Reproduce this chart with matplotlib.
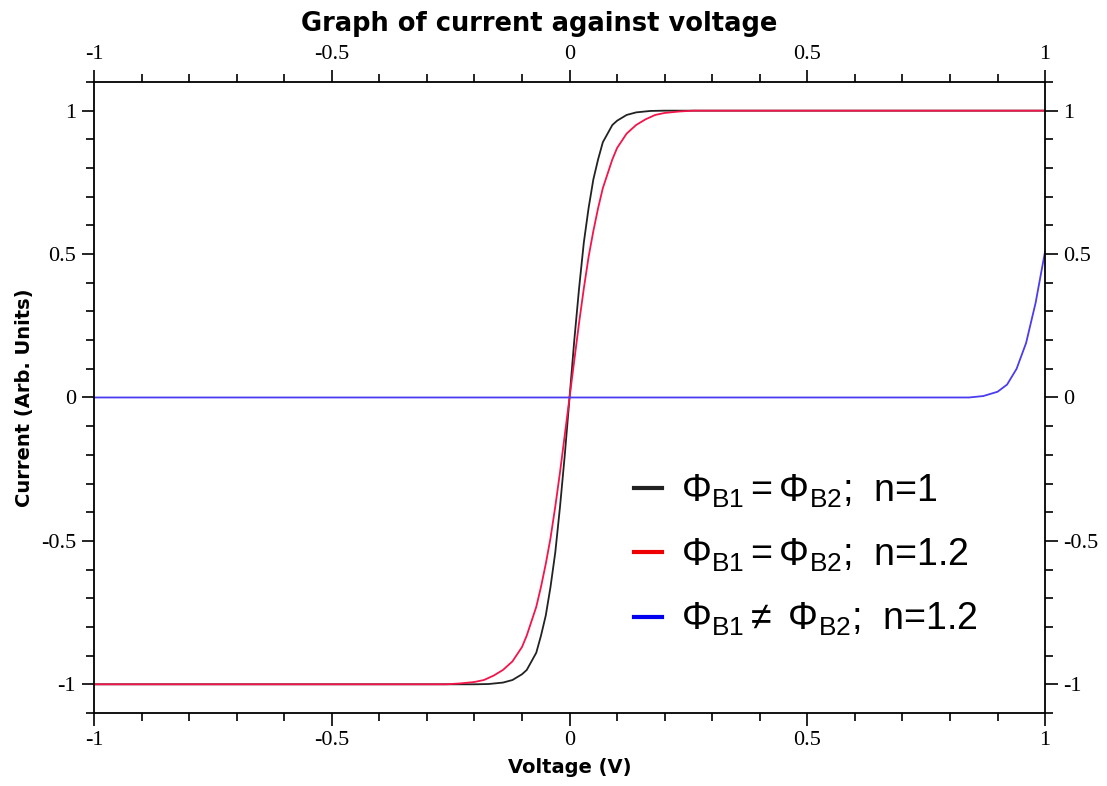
"""
I-V curves: current against voltage for three barrier cases
"""
import matplotlib.pyplot as plt
from matplotlib.ticker import MultipleLocator

plt.rcParams['mathtext.fontset'] = 'custom'
plt.rcParams['mathtext.rm'] = 'Liberation Sans'
plt.rcParams['mathtext.it'] = 'Liberation Sans:italic'

# values
v_black = [-1.0, -0.20, -0.17, -0.14, -0.12, -0.10, -0.09, -0.08, -0.07, -0.06, -0.05,
           -0.04, -0.03, -0.02, -0.01, 0.0, 0.01, 0.02, 0.03, 0.04, 0.05, 0.06,
           0.07, 0.08, 0.09, 0.10, 0.12, 0.14, 0.17, 0.20, 1.0]
i_black = [-1.0, -1.0, -0.999, -0.994, -0.985, -0.965, -0.95, -0.92, -0.89, -0.83, -0.76,
           -0.66, -0.54, -0.38, -0.2, 0.0, 0.2, 0.38, 0.54, 0.66, 0.76, 0.83,
           0.89, 0.92, 0.95, 0.965, 0.985, 0.994, 0.999, 1.0, 1.0]

v_red = [-1.0, -0.26, -0.23, -0.20, -0.18, -0.16, -0.14, -0.12, -0.10, -0.09, -0.08,
         -0.07, -0.06, -0.05, -0.04, -0.03, -0.02, -0.01, 0.0, 0.01, 0.02, 0.03,
         0.04, 0.05, 0.06, 0.07, 0.08, 0.09, 0.10, 0.12, 0.14, 0.16, 0.18, 0.20,
         0.23, 0.26, 1.0]
i_red = [-1.0, -1.0, -0.997, -0.992, -0.985, -0.97, -0.95, -0.92, -0.87, -0.83, -0.78,
         -0.73, -0.66, -0.58, -0.49, -0.38, -0.26, -0.13, 0.0, 0.13, 0.26, 0.38,
         0.49, 0.58, 0.66, 0.73, 0.78, 0.83, 0.87, 0.92, 0.95, 0.97, 0.985, 0.992,
         0.997, 1.0, 1.0]

v_blue = [-1.0, 0.84, 0.87, 0.90, 0.92, 0.94, 0.96, 0.98, 1.0]
i_blue = [0.0, 0.0, 0.005, 0.02, 0.045, 0.10, 0.19, 0.33, 0.51]

labels = [r'$\mathrm{\Phi_{B1}{=}\Phi_{B2}}$;  n=1',
          r'$\mathrm{\Phi_{B1}{=}\Phi_{B2}}$;  n=1.2',
          r'$\mathrm{\Phi_{B1}{\neq}\ \Phi_{B2}}$;  n=1.2']

fig = plt.figure(figsize=(11.07, 7.86), dpi=100)
ax = fig.add_axes([0.0849, 0.0929, 0.8592, 0.8028])

ax.plot(v_black, i_black, color='#222222', lw=1.3, label=labels[0])
ax.plot(v_red, i_red, color='#f5144a', lw=1.3, label=labels[1])
ax.plot(v_blue, i_blue, color='#4a3cf0', lw=1.3, label=labels[2])

ax.set_xlim(-1, 1)
ax.set_ylim(-1.1, 1.1)
ax.xaxis.set_major_locator(MultipleLocator(0.5))
ax.xaxis.set_minor_locator(MultipleLocator(0.1))
ax.yaxis.set_major_locator(MultipleLocator(0.5))
ax.yaxis.set_minor_locator(MultipleLocator(0.1))
ax.xaxis.set_major_formatter(lambda x, pos: f'{x:g}')
ax.yaxis.set_major_formatter(lambda y, pos: f'{y:g}')

ax.tick_params(which='both', direction='out', top=True, right=True,
               labeltop=True, labelright=True, width=1.2, pad=4,
               labelsize=16, labelfontfamily='Liberation Serif')
ax.tick_params(which='major', length=9)
ax.tick_params(which='minor', length=5.5)
for sp in ax.spines.values():
    sp.set_linewidth(1.3)

ax.set_title('Graph of current against voltage', fontsize=18.5, fontweight='bold',
             pad=10, x=0.468)
ax.set_xlabel('Voltage (V)', fontsize=14, fontweight='bold', labelpad=6)
ax.set_ylabel('Current (Arb. Units)', fontsize=14, fontweight='bold', labelpad=5)

leg = ax.legend(loc='upper left', bbox_to_anchor=(0.532, 0.435), frameon=False,
                handlelength=0.75, handletextpad=0.5, labelspacing=0.72,
                prop={'family': 'Liberation Sans', 'size': 27})
for line in leg.get_lines():
    line.set_linewidth(3)
leg.get_lines()[1].set_color('#ee0000')
leg.get_lines()[2].set_color('#0000ee')

fig.savefig('out.png', dpi=100)
